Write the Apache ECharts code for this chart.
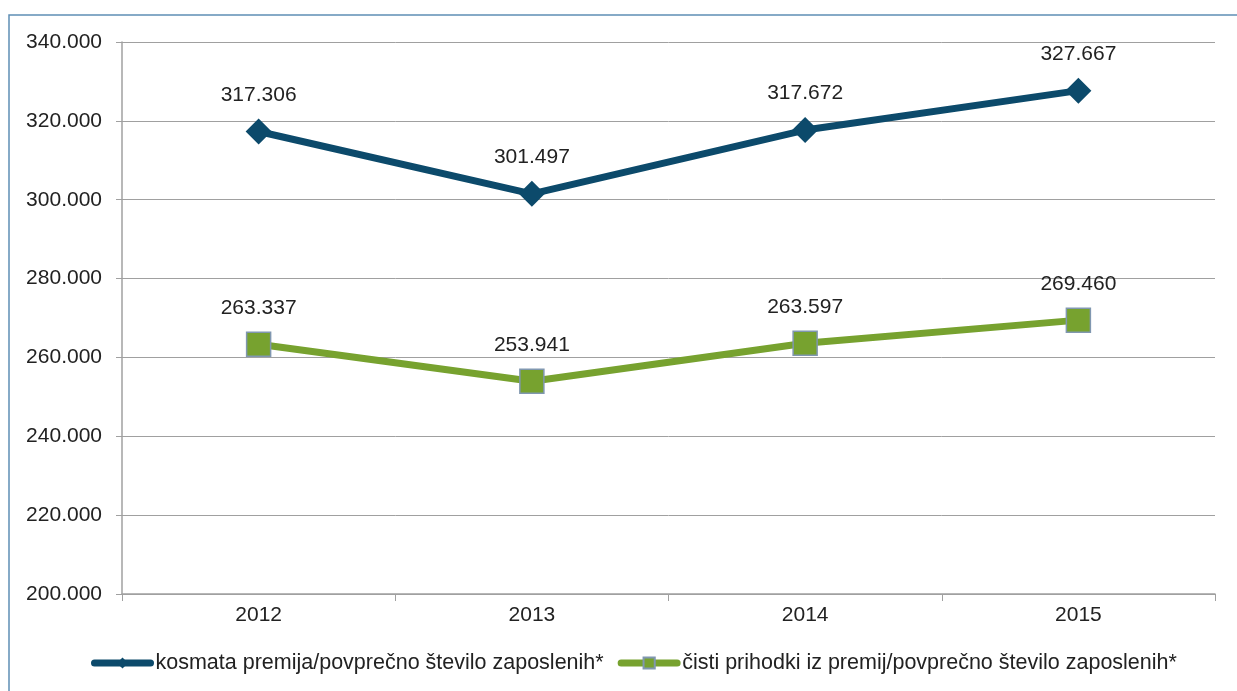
<!DOCTYPE html>
<html lang="sl">
<head>
    <meta charset="UTF-8">
    <title>Premija na zaposlenega</title>
    <script src="https://cdn.jsdelivr.net/npm/echarts@6/dist/echarts.min.js"></script>
    <style>
        html, body { margin: 0; padding: 0; background: #fff; }
        #main { width: 1237px; height: 691px; }
    </style>
</head>
<body>
<div id="main"></div>
<script>
    // podatki
    const years = ['2012', '2013', '2014', '2015'];
    const kosmata = [317306, 301497, 317672, 327667];
    const cisti = [263337, 253941, 263597, 269460];
    const seriesNames = [
        'kosmata premija/povprečno število zaposlenih*',
        'čisti prihodki iz premij/povprečno število zaposlenih*'
    ];

    // 317306 -> "317.306"
    function fmt(v) {
        return String(Math.round(v)).replace(/\B(?=(\d{3})+(?!\d))/g, '.');
    }

    let myChart = echarts.init(document.getElementById('main'));
    let option = {
        animation: false,
        textStyle: { fontFamily: 'Liberation Sans, Arial, sans-serif' },
        graphic: [{
            type: 'rect',
            shape: { x: 9, y: 15, width: 1400, height: 900 },
            style: { fill: 'none', stroke: '#5f8fb5', lineWidth: 1.5 },
            silent: true
        }],
        grid: { left: 122, right: 22, top: 42, bottom: 97 },
        legend: {
            bottom: 12,
            left: 86,
            itemWidth: 56,
            itemHeight: 14,
            itemGap: 14,
            lineStyle: { width: 7, cap: 'round' },
            textStyle: { fontSize: 21.5, color: '#222' },
            data: seriesNames
        },
        xAxis: {
            type: 'category',
            data: years,
            boundaryGap: true,
            axisLine: { lineStyle: { color: '#a0a0a0', width: 1.5 } },
            axisTick: { show: true, length: 7, lineStyle: { color: '#a0a0a0' } },
            axisLabel: { fontSize: 21, color: '#222', margin: 11 }
        },
        yAxis: {
            type: 'value',
            min: 200000,
            max: 340000,
            interval: 20000,
            axisLine: { show: true, lineStyle: { color: '#a0a0a0', width: 1.5 } },
            axisTick: { show: true, length: 6, lineStyle: { color: '#a0a0a0' } },
            splitLine: { lineStyle: { color: '#a0a0a0', width: 1 } },
            axisLabel: { fontSize: 21, color: '#222', margin: 20, formatter: fmt }
        },
        series: [
            {
                name: seriesNames[0],
                type: 'line',
                data: kosmata,
                symbol: 'diamond',
                symbolSize: 26,
                lineStyle: { color: '#0c4a6b', width: 7 },
                itemStyle: { color: '#0c4a6b' },
                label: {
                    show: true,
                    position: 'top',
                    distance: 13,
                    fontSize: 21,
                    color: '#222',
                    formatter: p => fmt(p.value)
                }
            },
            {
                name: seriesNames[1],
                type: 'line',
                data: cisti,
                symbol: 'rect',
                symbolSize: 24,
                lineStyle: { color: '#77a22f', width: 7 },
                itemStyle: { color: '#77a22f', borderColor: '#8097b0', borderWidth: 1.5 },
                label: {
                    show: true,
                    position: 'top',
                    distance: 13,
                    fontSize: 21,
                    color: '#222',
                    formatter: p => fmt(p.value)
                }
            }
        ]
    };
    myChart.setOption(option);
</script>
</body>
</html>
